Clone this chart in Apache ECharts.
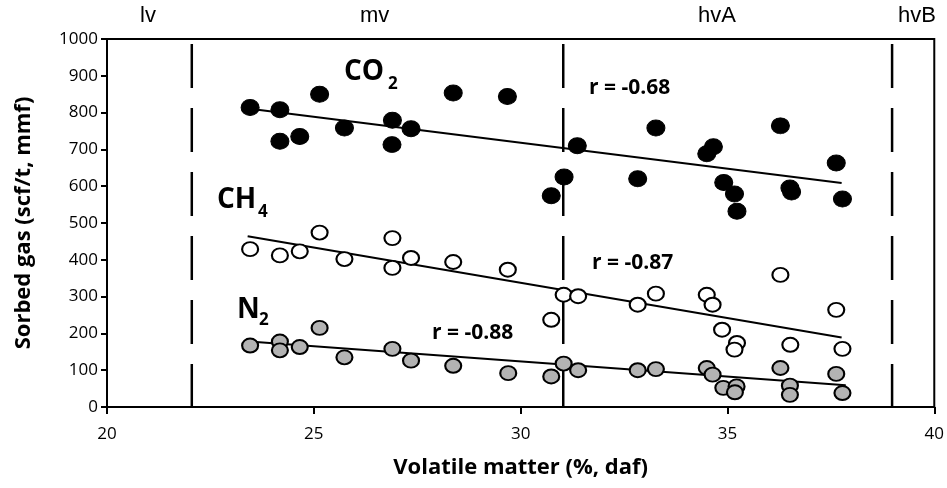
<!DOCTYPE html>
<html>
<head>
<meta charset="utf-8">
<script src="https://cdn.jsdelivr.net/npm/echarts@6/dist/echarts.min.js"></script>
<style>
  html, body { margin: 0; padding: 0; background: #fff; }
  #chart { width: 947px; height: 488px; }
</style>
</head>
<body>
<div id="chart"></div>
<script>
// sorbed gas vs volatile matter
var co2 = [[23.46,814],[24.18,808],[24.18,722],[24.66,735],[25.14,850],[25.74,758],
    [26.9,779],[26.89,713],[27.35,756],[28.37,853],[29.68,844],
    [30.74,574],[31.05,625],[31.37,710],[32.83,620],[33.27,758],
    [34.5,688],[34.66,707],[34.91,610],[35.17,579],[35.23,532],
    [36.28,764],[36.51,595],[36.55,584],[37.63,663],[37.78,565]];
var ch4 = [[23.46,429],[24.18,412],[24.66,423],[25.14,474],[25.74,402],
    [26.9,459],[26.9,378],[27.35,405],[28.37,394],[29.69,373],
    [30.74,237],[31.04,305],[31.39,301],[32.83,278],[33.27,308],
    [34.5,305],[34.64,278],[34.87,210],[35.23,174],[35.17,156],
    [36.28,359],[36.52,169],[37.63,264],[37.78,158]];
var n2 = [[23.46,167],[24.18,178],[24.18,154],[24.66,163],[25.14,215],[25.74,135],
    [26.9,158],[27.35,126],[28.37,112],[29.7,92],
    [30.74,83],[31.04,118],[31.39,100],[32.83,100],[33.27,103],
    [34.5,106],[34.64,88],[34.9,52],[35.22,56],[35.18,40],
    [36.28,106],[36.51,58],[36.51,33],[37.63,90],[37.78,38]];

// regression lines (end points)
var co2Fit = [[23.5,810],[37.76,609]];
var ch4Fit = [[23.4,464],[37.76,189]];
var n2Fit = [[23.44,178],[37.86,59]];

// rank boundaries
var rankBounds = [22.05, 31.03, 38.98];
var rankNames = ['lv', 'mv', 'hvA', 'hvB'];

var font = '"Open Sans", "DejaVu Sans", sans-serif';
var rankFont = '22px "Liberation Sans Narrow", "Liberation Sans", sans-serif';

var series = [];

rankBounds.forEach(function(b){
    series.push({
        type: 'line',
        data: [[b, 1000], [b, 0]],
        symbol: 'none',
        silent: true,
        lineStyle: { color: '#000', width: 2.5, type: [44, 20], dashOffset: -5 },
        z: 1
    });
});

[co2Fit, ch4Fit, n2Fit].forEach(function(f){
    series.push({
        type: 'line',
        data: f,
        symbol: 'none',
        lineStyle: { color: '#000', width: 2 },
        z: 2
    });
});

series.push({
    name: 'CO2', type: 'scatter', data: co2,
    symbol: 'circle', symbolSize: [18, 16],
    itemStyle: { color: '#000', borderColor: '#000', borderWidth: 1, opacity: 1 },
    z: 3
});
series.push({
    name: 'CH4', type: 'scatter', data: ch4,
    symbol: 'circle', symbolSize: [16, 14],
    itemStyle: { color: '#fff', borderColor: '#000', borderWidth: 2, opacity: 1 },
    z: 3
});
series.push({
    name: 'N2', type: 'scatter', data: n2,
    symbol: 'circle', symbolSize: [16, 14],
    itemStyle: { color: '#b3b3b3', borderColor: '#000', borderWidth: 2, opacity: 1 },
    z: 3
});

var labelText = function(txt, x, y, size){
    return {
        type: 'text', left: x, top: y,
        style: { text: txt, font: 'bold ' + size + 'px ' + font, fill: '#000' }
    };
};

var option = {
    backgroundColor: '#fff',
    animation: false,
    grid: {
        left: 107, right: 8, top: 39, bottom: 81,
        show: true, borderColor: '#000', borderWidth: 2
    },
    xAxis: {
        type: 'value', min: 20, max: 40, interval: 5,
        name: 'Volatile matter (%, daf)',
        nameLocation: 'middle', nameGap: 50,
        nameTextStyle: { fontFamily: font, fontWeight: 'bold', fontSize: 22, color: '#000' },
        axisLine: { show: true, lineStyle: { color: '#000', width: 2 } },
        axisTick: { show: true, length: 7, lineStyle: { color: '#000', width: 2 } },
        axisLabel: { fontFamily: font, fontSize: 17, color: '#000', margin: 19 },
        splitLine: { show: false }
    },
    yAxis: {
        type: 'value', min: 0, max: 1000, interval: 100,
        name: 'Sorbed gas (scf/t, mmf)',
        nameLocation: 'middle', nameGap: 72,
        nameTextStyle: { fontFamily: font, fontWeight: 'bold', fontSize: 22, color: '#000' },
        axisLine: { show: true, lineStyle: { color: '#000', width: 2 } },
        axisTick: { show: true, length: 6, lineStyle: { color: '#000', width: 2 } },
        axisLabel: { fontFamily: font, fontSize: 17, color: '#000', margin: 9,
            formatter: function(v){ return String(v); } },
        splitLine: { show: false }
    },
    graphic: [
        { type: 'text', left: 140, top: 5, style: { text: rankNames[0], font: rankFont, fill: '#000' } },
        { type: 'text', left: 360, top: 5, style: { text: rankNames[1], font: rankFont, fill: '#000' } },
        { type: 'text', left: 698, top: 5, style: { text: rankNames[2], font: rankFont, fill: '#000' } },
        { type: 'text', left: 898, top: 5, style: { text: rankNames[3], font: rankFont, fill: '#000' } },
        labelText('CO', 344, 58, 28),
        labelText('2', 388, 76, 17),
        labelText('CH', 217, 186, 28),
        labelText('4', 258, 204, 17),
        labelText('N', 237, 296, 28),
        labelText('2', 259, 312, 17),
        labelText('r = -0.68', 589, 78, 21),
        labelText('r = -0.87', 592, 253, 21),
        labelText('r = -0.88', 432, 323, 21)
    ],
    series: series
};

var myChart = echarts.init(document.getElementById('chart'));
myChart.setOption(option);
</script>
</body>
</html>
